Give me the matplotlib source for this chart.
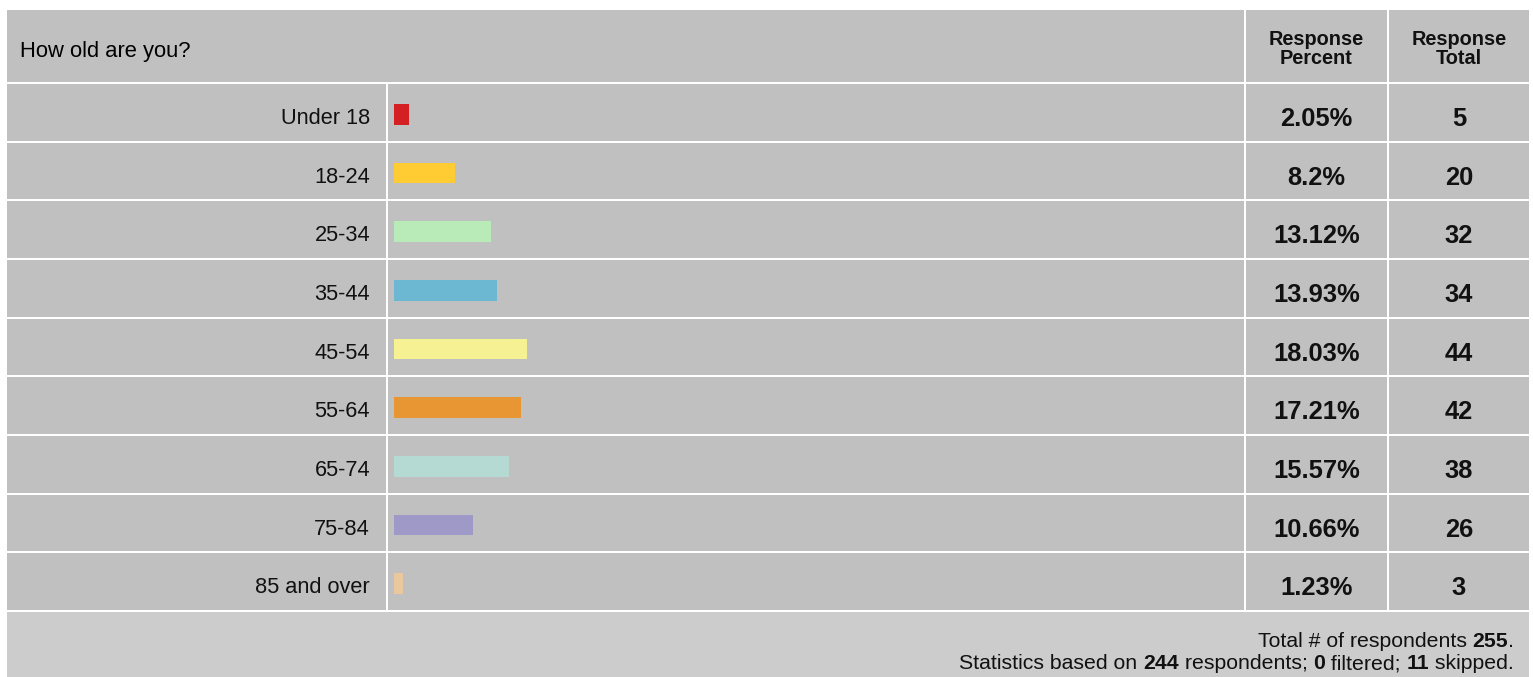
import matplotlib
matplotlib.use("Agg")
import matplotlib.pyplot as plt
import matplotlib.transforms as mtransforms
from matplotlib.patches import Rectangle

# ---- data ----
question = "How old are you?"
categories = ["Under 18", "18-24", "25-34", "35-44", "45-54",
              "55-64", "65-74", "75-84", "85 and over"]
percents = [2.05, 8.2, 13.12, 13.93, 18.03, 17.21, 15.57, 10.66, 1.23]
totals = [5, 20, 32, 34, 44, 42, 38, 26, 3]
bar_colors = ["#d42022", "#ffcc33", "#b8ebb8", "#6cb8d2", "#f6f192",
              "#e89634", "#b5dad4", "#9e99c6", "#e8c89c"]
total_respondents = 255
based_on = 244
filtered = 0
skipped = 11

# ---- layout (pixels) ----
W, H = 1533, 677
plt.rcParams["font.family"] = ["Liberation Sans", "DejaVu Sans"]
fig = plt.figure(figsize=(W / 100, H / 100), dpi=100)
fig.patch.set_facecolor("white")

CELL = "#c0c0c0"
FOOT = "#cccccc"


def fx(x):
    return x / W


def fy(y):
    return 1 - y / H


def cell(x0, y0, x1, y1, color=CELL):
    fig.add_artist(Rectangle((fx(x0), fy(y1)), fx(x1) - fx(x0), fy(y0) - fy(y1),
                             transform=fig.transFigure, facecolor=color,
                             edgecolor="none", zorder=0))


left, right = 7, 1529
col_bar0, col_bar1 = 388, 1244
col_pct0, col_pct1 = 1246, 1387
col_tot0, col_tot1 = 1389, 1529
head_top, head_bot = 10, 82
body_top, body_bot = 83, 611
n = len(categories)
pitch = (body_bot - body_top) / n

# header
cell(left, head_top, col_bar1, head_bot)
cell(col_pct0, head_top, col_pct1, head_bot)
cell(col_tot0, head_top, col_tot1, head_bot)
# rows
for i in range(n):
    y0 = body_top + i * pitch + 1
    y1 = body_top + (i + 1) * pitch - 1
    cell(left, y0, 386, y1)
    cell(col_bar0, y0, col_bar1, y1)
    cell(col_pct0, y0, col_pct1, y1)
    cell(col_tot0, y0, col_tot1, y1)
# footer
cell(left, 612, right, H + 2, FOOT)

# header text
fig.text(fx(20), fy(57), question, fontsize=15.8, ha="left", va="baseline")
for label, x0, x1 in [("Response\nPercent", col_pct0, col_pct1),
                      ("Response\nTotal", col_tot0, col_tot1)]:
    fig.text(fx((x0 + x1) / 2), fy(49), label, fontsize=14.3, fontweight="bold",
             ha="center", va="center", linespacing=1.0, color="#111111")

# bar axes
ax = fig.add_axes([fx(col_bar0), fy(body_bot + 2), fx(col_bar1) - fx(col_bar0),
                   fy(body_top + 2) - fy(body_bot + 2)])
ax.set_facecolor("none")
px_per_pct = 7.4
ax.set_xlim(-6 / px_per_pct, (col_bar1 - col_bar0 - 6) / px_per_pct)
ax.set_ylim(n - 0.5, -0.5)
ax.barh(range(n), percents, height=0.35, color=bar_colors, left=0)
ax.axis("off")

trans = mtransforms.blended_transform_factory(fig.transFigure, ax.transData)
for i, (cat, p, t) in enumerate(zip(categories, percents, totals)):
    ax.text(fx(370), i + 0.07, cat, transform=trans, ha="right", va="center",
            fontsize=15.7, color="#111111")
    ax.text(fx((col_pct0 + col_pct1) / 2), i + 0.08, f"{p:g}%", transform=trans,
            ha="center", va="center", fontsize=18.4, fontweight="bold", color="#111111")
    ax.text(fx((col_tot0 + col_tot1) / 2), i + 0.08, str(t), transform=trans,
            ha="center", va="center", fontsize=18.4, fontweight="bold", color="#111111")

# footer text, mixed weights, laid out right to left
renderer = fig.canvas.get_renderer()


def right_line(pieces, x_right, y_base, size=15.3):
    x = fx(x_right)
    for txt, bold in reversed(pieces):
        t = fig.text(x, fy(y_base), txt, fontsize=size, ha="right", va="baseline",
                     fontweight="bold" if bold else "normal", color="#111111")
        bb = t.get_window_extent(renderer)
        x = bb.x0 / fig.bbox.width


right_line([("Total # of respondents ", False), (str(total_respondents), True),
            (".", False)], 1514, 647)
right_line([("Statistics based on ", False), (str(based_on), True),
            (" respondents; ", False), (str(filtered), True),
            (" filtered; ", False), (str(skipped), True), (" skipped.", False)],
           1514, 669)

fig.savefig("out.png", dpi=100, facecolor="white")
